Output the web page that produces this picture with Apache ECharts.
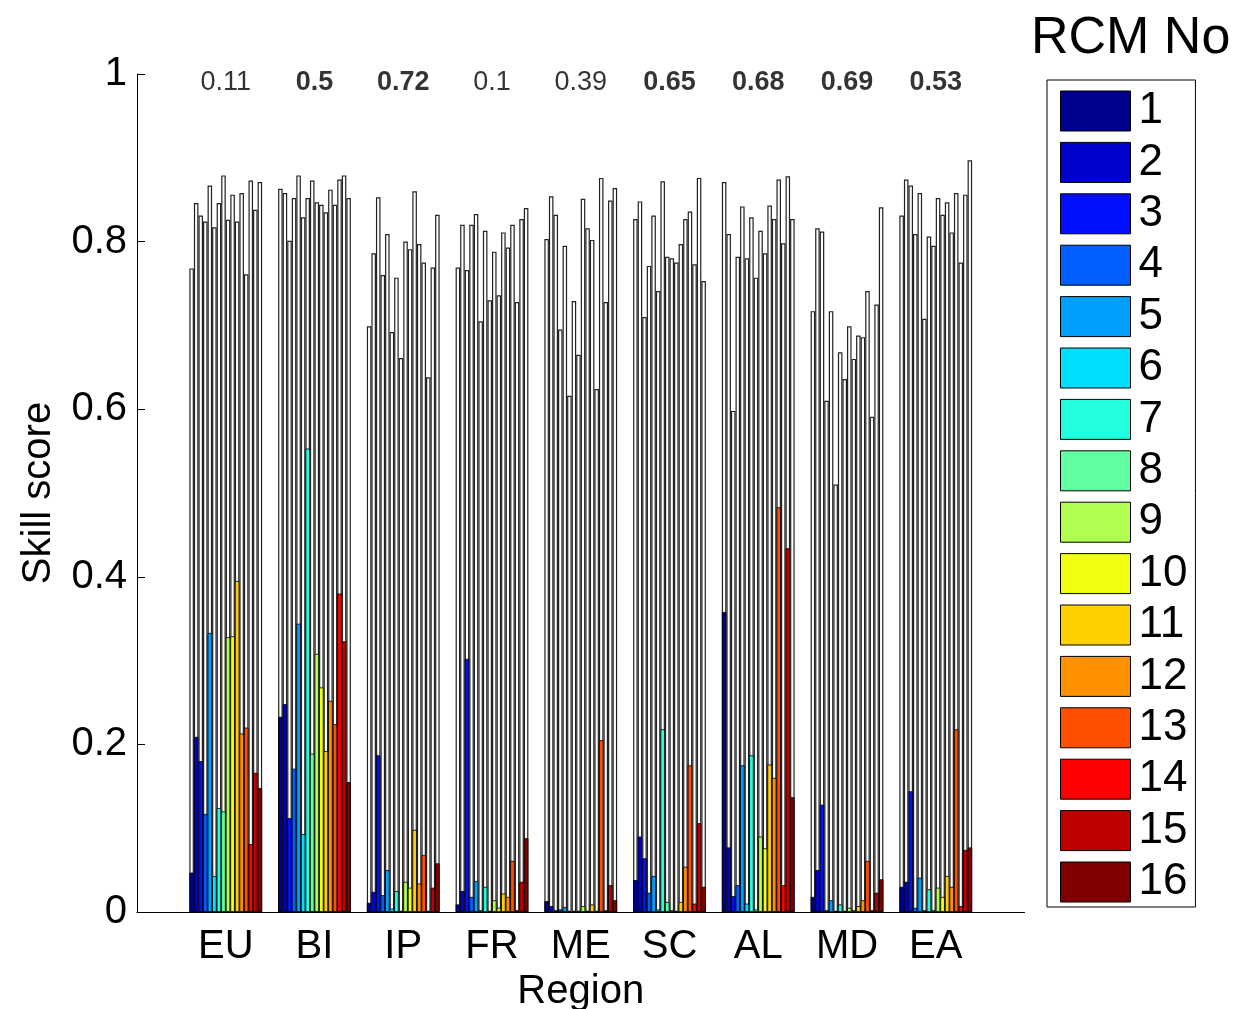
<!DOCTYPE html>
<html>
<head>
<meta charset="utf-8">
<script src="https://cdn.jsdelivr.net/npm/echarts@6/dist/echarts.min.js"></script>
<style>
  html, body { margin: 0; padding: 0; background: #fff; }
  #chart { width: 1249px; height: 1009px; }
</style>
</head>
<body>
<div id="chart"></div>
<script>
// regions on the x axis
const regions = ['EU', 'BI', 'IP', 'FR', 'ME', 'SC', 'AL', 'MD', 'EA'];
const rcmNo = ['1', '2', '3', '4', '5', '6', '7', '8', '9', '10', '11', '12', '13', '14', '15', '16'];

// numbers printed above each group (bold = true)
const topValues = [0.11, 0.5, 0.72, 0.1, 0.39, 0.65, 0.68, 0.69, 0.53];
const topBold = [false, true, true, false, false, true, true, true, true];

// tall outlined bars, one value per RCM
const scoreEU = [0.768, 0.846, 0.831, 0.824, 0.867, 0.817, 0.846, 0.879, 0.826, 0.856, 0.824, 0.858, 0.761, 0.873, 0.838, 0.871];
const scoreBI = [0.863, 0.858, 0.801, 0.852, 0.879, 0.829, 0.852, 0.873, 0.847, 0.844, 0.835, 0.862, 0.844, 0.874, 0.879, 0.852];
const scoreIP = [0.699, 0.786, 0.853, 0.760, 0.809, 0.692, 0.757, 0.661, 0.800, 0.791, 0.860, 0.797, 0.775, 0.638, 0.769, 0.832];
const scoreFR = [0.769, 0.820, 0.766, 0.820, 0.833, 0.705, 0.813, 0.730, 0.788, 0.736, 0.811, 0.793, 0.820, 0.728, 0.827, 0.840];
const scoreME = [0.803, 0.854, 0.832, 0.695, 0.795, 0.616, 0.729, 0.665, 0.851, 0.816, 0.802, 0.624, 0.876, 0.728, 0.849, 0.864];
const scoreSC = [0.827, 0.848, 0.710, 0.771, 0.831, 0.741, 0.872, 0.782, 0.780, 0.775, 0.797, 0.827, 0.836, 0.773, 0.876, 0.753];
const scoreAL = [0.871, 0.809, 0.598, 0.782, 0.842, 0.780, 0.829, 0.757, 0.813, 0.786, 0.843, 0.827, 0.874, 0.798, 0.878, 0.827];
const scoreMD = [0.717, 0.816, 0.812, 0.610, 0.717, 0.510, 0.668, 0.636, 0.699, 0.660, 0.688, 0.686, 0.741, 0.591, 0.725, 0.841];
const scoreEA = [0.831, 0.874, 0.867, 0.809, 0.858, 0.708, 0.806, 0.795, 0.852, 0.832, 0.847, 0.811, 0.858, 0.775, 0.856, 0.897];

// coloured bars, one value per RCM
const rcmEU = [0.047, 0.209, 0.180, 0.117, 0.333, 0.043, 0.124, 0.120, 0.328, 0.329, 0.395, 0.213, 0.220, 0.081, 0.166, 0.148];
const rcmBI = [0.233, 0.248, 0.112, 0.171, 0.344, 0.093, 0.553, 0.189, 0.308, 0.268, 0.192, 0.252, 0.224, 0.380, 0.323, 0.155];
const rcmIP = [0.011, 0.024, 0.187, 0.020, 0.050, 0.004, 0.025, 0, 0.036, 0.029, 0.098, 0.034, 0.068, 0, 0.029, 0.058];
const rcmFR = [0.009, 0.025, 0.302, 0.018, 0.037, 0.002, 0.030, 0, 0.014, 0.005, 0.022, 0.018, 0.061, 0.002, 0.036, 0.088];
const rcmME = [0.013, 0.007, 0.002, 0.003, 0.006, 0, 0, 0, 0.007, 0.001, 0.009, 0, 0.205, 0.002, 0.032, 0.014];
const rcmSC = [0.038, 0.090, 0.064, 0.023, 0.043, 0.003, 0.218, 0.012, 0.002, 0, 0.012, 0.054, 0.175, 0.010, 0.106, 0.030];
const rcmAL = [0.358, 0.077, 0.019, 0.032, 0.175, 0.010, 0.187, 0.003, 0.090, 0.076, 0.176, 0.160, 0.483, 0.032, 0.434, 0.137];
const rcmMD = [0.018, 0.050, 0.128, 0.002, 0.014, 0.001, 0.009, 0, 0.005, 0.002, 0.007, 0.014, 0.061, 0.002, 0.023, 0.039];
const rcmEA = [0.030, 0.036, 0.144, 0.005, 0.041, 0.002, 0.027, 0.002, 0.029, 0.018, 0.043, 0.030, 0.218, 0.007, 0.074, 0.077];

const yTicks = [0, 0.2, 0.4, 0.6, 0.8, 1];

// jet colours
const jet = ['#00008F', '#0000CF', '#0010FF', '#0060FF', '#00A0FF', '#00DFFF', '#20FFDF', '#60FFA0',
             '#B0FF50', '#F0FF10', '#FFCF00', '#FF9000', '#FF5000', '#FF0000', '#BF0000', '#800000'];

const scoreRows = [scoreEU, scoreBI, scoreIP, scoreFR, scoreME, scoreSC, scoreAL, scoreMD, scoreEA];
const rcmRows = [rcmEU, rcmBI, rcmIP, rcmFR, rcmME, rcmSC, rcmAL, rcmMD, rcmEA];

const font = 'Liberation Sans, Arial, sans-serif';
// one empty slot each side so the regions sit at 1..9 on a 0..10 axis
const xCats = [' '].concat(regions).concat(['  ']);

let series = [];
for (let k = 0; k < rcmNo.length; k++) {
  series.push({
    name: 'all' + k,
    type: 'bar',
    xAxisIndex: 0,
    barGap: '0%',
    barCategoryGap: '18%',
    itemStyle: { color: '#fff', borderColor: '#222', borderWidth: 1.2 },
    data: ['-'].concat(scoreRows.map(r => r[k])).concat(['-']),
    z: 2
  });
}
for (let k = 0; k < rcmNo.length; k++) {
  series.push({
    name: rcmNo[k],
    type: 'bar',
    xAxisIndex: 1,
    barGap: '0%',
    barCategoryGap: '18%',
    itemStyle: { color: jet[k], borderColor: '#000', borderWidth: 0.8 },
    data: ['-'].concat(rcmRows.map(r => r[k])).concat(['-']),
    z: 3
  });
}
series.push({
  name: 'top',
  type: 'scatter',
  xAxisIndex: 0,
  symbolSize: 1,
  itemStyle: { color: 'rgba(0,0,0,0)' },
  silent: true,
  z: 5,
  label: {
    show: true,
    position: 'inside',
    fontFamily: font,
    fontSize: 27,
    color: '#000',
    formatter: p => String(topValues[p.dataIndex])
  },
  data: regions.map((r, i) => ({
    value: [i + 1, 0.99],
    label: { fontWeight: topBold[i] ? 'bold' : 'normal' }
  }))
});

let myChart = echarts.init(document.getElementById('chart'));
myChart.setOption({
  animation: false,
  backgroundColor: '#fff',
  title: {
    text: 'RCM No',
    left: 1026,
    top: 8,
    textStyle: { fontFamily: font, fontSize: 52, fontWeight: 'normal', color: '#000' }
  },
  legend: {
    data: rcmNo,
    orient: 'vertical',
    left: 1047,
    top: 80,
    padding: [9, 8, 3, 13],
    itemWidth: 70,
    itemHeight: 40,
    itemGap: 7.4,
    icon: 'rect',
    borderColor: '#000',
    borderWidth: 1,
    itemStyle: { borderColor: '#000', borderWidth: 1 },
    textStyle: { fontFamily: font, fontSize: 44, color: '#000', padding: [0, 0, 0, 3] }
  },
  grid: { left: 137, right: 224.5, top: 74, bottom: 97, outerBoundsMode: 'none' },
  xAxis: [{
    type: 'category',
    data: xCats,
    boundaryGap: false,
    name: 'Region',
    nameLocation: 'middle',
    nameGap: 56,
    nameTextStyle: { fontFamily: font, fontSize: 40, color: '#000' },
    axisLine: { lineStyle: { color: '#000', width: 1 } },
    axisTick: { show: false },
    axisLabel: { fontFamily: font, fontSize: 40, color: '#000', margin: 15, interval: 0 },
    splitLine: { show: false }
  }, {
    type: 'category',
    data: xCats,
    boundaryGap: false,
    show: false
  }],
  yAxis: {
    type: 'value',
    min: yTicks[0],
    max: yTicks[yTicks.length - 1],
    interval: 0.2,
    name: 'Skill score',
    nameLocation: 'middle',
    nameGap: 78,
    nameTextStyle: { fontFamily: font, fontSize: 40, color: '#000' },
    axisLine: { show: true, lineStyle: { color: '#000', width: 1 } },
    axisTick: { show: true, inside: true, length: 8, lineStyle: { color: '#000' } },
    axisLabel: {
      fontFamily: font, fontSize: 40, color: '#000', margin: 10,
      formatter: v => (v === 0 || v === 1) ? String(v) : v.toFixed(1)
    },
    splitLine: { show: false }
  },
  series: series
});
</script>
</body>
</html>
